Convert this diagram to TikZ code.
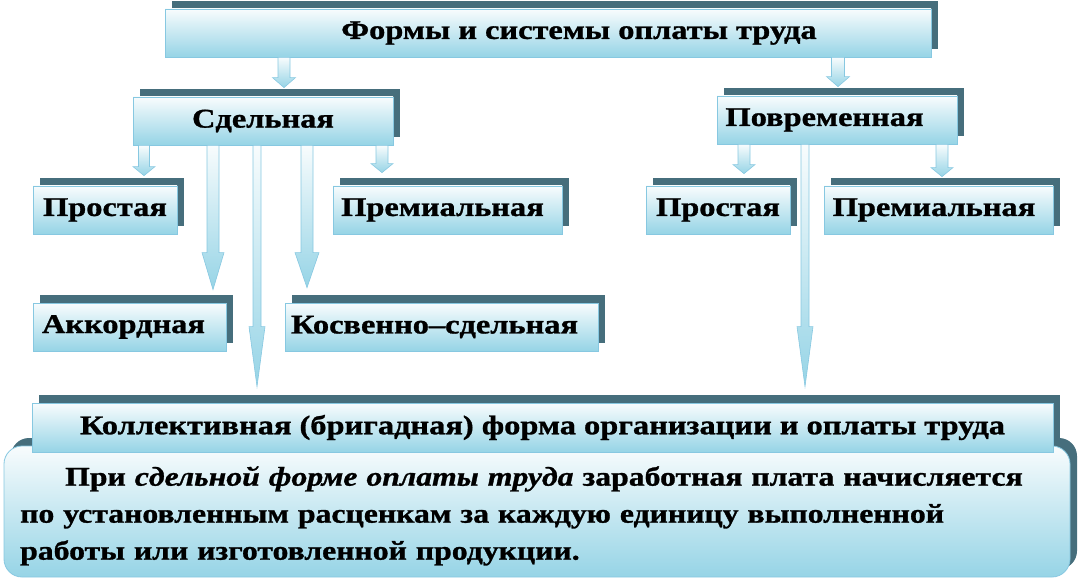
\documentclass[tikz,border=0pt]{standalone}
\usepackage{fontspec}
\setmainfont[FakeStretch=1.2, FakeBold=1.1]{Liberation Serif}
\newfontfamily\parafont[FakeStretch=1.175, FakeBold=1.1]{Liberation Serif}
\usetikzlibrary{shadows,calc}
\definecolor{shadowc}{RGB}{70,110,124}
\definecolor{boxbot}{RGB}{150,212,230}
\definecolor{boxtop}{RGB}{248,252,253}
\definecolor{boxline}{RGB}{135,200,225}
\tikzset{
  box/.style={draw=boxline, line width=0.8pt, top color=boxtop, bottom color=boxbot,
    minimum height=48pt, inner sep=0pt,
    font=\fontsize{27}{32}\selectfont\bfseries,
    general shadow={fill=shadowc, shadow xshift=7pt, shadow yshift=8pt}},
  blk/.style={draw=boxline, line width=0.6pt, top color=boxtop, bottom color=boxbot},
}
\newcommand\blkarrow[7]{%
  \draw[blk] let \p1=(#2), \p2=(#3) in
    ({#1pt-#4pt},\y1) -- ({#1pt-#4pt},{\y2+#7pt+#6pt}) -- ({#1pt-#5pt},{\y2+#7pt+#6pt})
    -- (#1pt,{\y2+#7pt}) -- ({#1pt+#5pt},{\y2+#7pt+#6pt}) -- ({#1pt+#4pt},{\y2+#7pt+#6pt})
    -- ({#1pt+#4pt},\y1) -- cycle;}
\begin{document}
\begin{tikzpicture}[x=1pt,y=1pt]
\useasboundingbox (0,0) rectangle (1082,582);
% bottom rounded box
\node[box, rounded corners=18pt, minimum width=1066pt, minimum height=131pt] (round) at (537,70.5) {};
\node[anchor=north west, inner sep=0pt, text width=1060pt, align=left,
      font=\parafont\fontsize{27}{37}\selectfont\bfseries] (para) at (20,116)
  {\hspace*{45pt}При \textit{сдельной форме оплаты труда} заработная плата начисляется\\
   по установленным расценкам за каждую единицу выполненной\\
   работы или изготовленной продукции.};
\node[box, minimum width=1021pt, minimum height=49pt] (koll) at (542.5,154.5)
  {Коллективная (бригадная) форма организации и оплаты труда};
% upper boxes
\node[box, minimum width=766pt] (top) at (548,549) {\hspace*{62pt}Формы и системы оплаты труда};
\node[box, minimum width=260pt] (sdel) at (263,461) {Сдельная};
\node[box, minimum width=240pt] (povr) at (837,462) {\hspace*{-25pt}Повременная};
\node[box, minimum width=144pt] (prost1) at (105,372) {Простая};
\node[box, minimum width=229pt] (prem1) at (447.5,372) {\hspace*{-10pt}Премиальная};
\node[box, minimum width=193pt] (akk) at (129.5,255) {\hspace*{-12pt}Аккордная};
\node[box, minimum width=313pt] (kosv) at (441.5,255) {\hspace*{-14pt}Косвенно--сдельная};
\node[box, minimum width=144pt] (prost2) at (718,372) {Простая};
\node[box, minimum width=229pt] (prem2) at (938.5,372) {\hspace*{-9pt}Премиальная};
% arrows
\blkarrow{284}{top.south}{sdel.north}{6}{11.5}{10}{9}
\blkarrow{838}{top.south}{povr.north}{6.5}{11.5}{10}{9}
\blkarrow{144}{sdel.south}{prost1.north}{5.5}{11}{9}{10}
\blkarrow{213}{sdel.south}{akk.north}{6}{11}{37}{13}
\blkarrow{257}{sdel.south}{koll.north}{4}{8}{60}{16}
\blkarrow{307}{sdel.south}{kosv.north}{6}{12}{35}{15}
\blkarrow{382}{sdel.south}{prem1.north}{6}{11}{9}{13}
\blkarrow{744}{povr.south}{prost2.north}{6}{11}{9}{12}
\blkarrow{805}{povr.south}{koll.north}{4}{8}{60}{16}
\blkarrow{942}{povr.south}{prem2.north}{6}{11}{9}{9}
\end{tikzpicture}
\end{document}
